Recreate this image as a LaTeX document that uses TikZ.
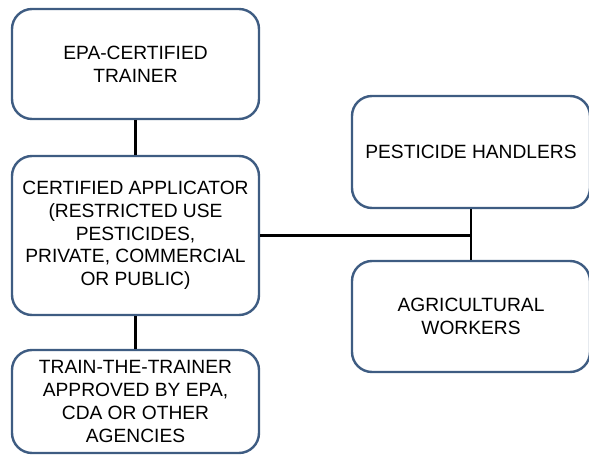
\documentclass[tikz,border=0pt]{standalone}
\usepackage{fontspec}
\setmainfont{Liberation Sans}
\usepackage{xcolor}
\usepackage{tikz}
\definecolor{BoxBlue}{RGB}{62,92,130}

\begin{document}
\begin{tikzpicture}[x=1pt,y=-1pt,
    box/.style={draw=BoxBlue,line width=2.4pt,fill=white,rounded corners=20pt,
      align=center,inner sep=0pt,font=\fontsize{19.2}{22.7}\selectfont},
    link/.style={draw=black,line width=2.4pt}]
  \useasboundingbox (0,0) rectangle (589,455);
  \node[box,minimum width=247pt,minimum height=110pt] (trainer) at (135.5,64) {EPA-CERTIFIED\\TRAINER};
  \node[box,minimum width=247pt,minimum height=159pt] (applicator) at (135.5,235.5)
    {CERTIFIED APPLICATOR\\(RESTRICTED USE\\PESTICIDES,\\PRIVATE, COMMERCIAL\\OR PUBLIC)};
  \node[box,minimum width=247pt,minimum height=103pt] (ttt) at (135.5,401.5)
    {TRAIN-THE-TRAINER\\APPROVED BY EPA,\\CDA OR OTHER\\AGENCIES};
  \node[box,minimum width=238pt,minimum height=112pt] (handlers) at (471,152) {PESTICIDE HANDLERS};
  \node[box,minimum width=238pt,minimum height=111pt] (workers) at (471,316.5) {AGRICULTURAL\\WORKERS};
  \coordinate (jn) at (handlers.south |- applicator.east);
  \draw[link] (trainer) -- (applicator);
  \draw[link] (applicator) -- (ttt);
  \draw[link] (applicator.east) -- (jn);
  \draw[link] (handlers) -- (workers);
\end{tikzpicture}
\end{document}
